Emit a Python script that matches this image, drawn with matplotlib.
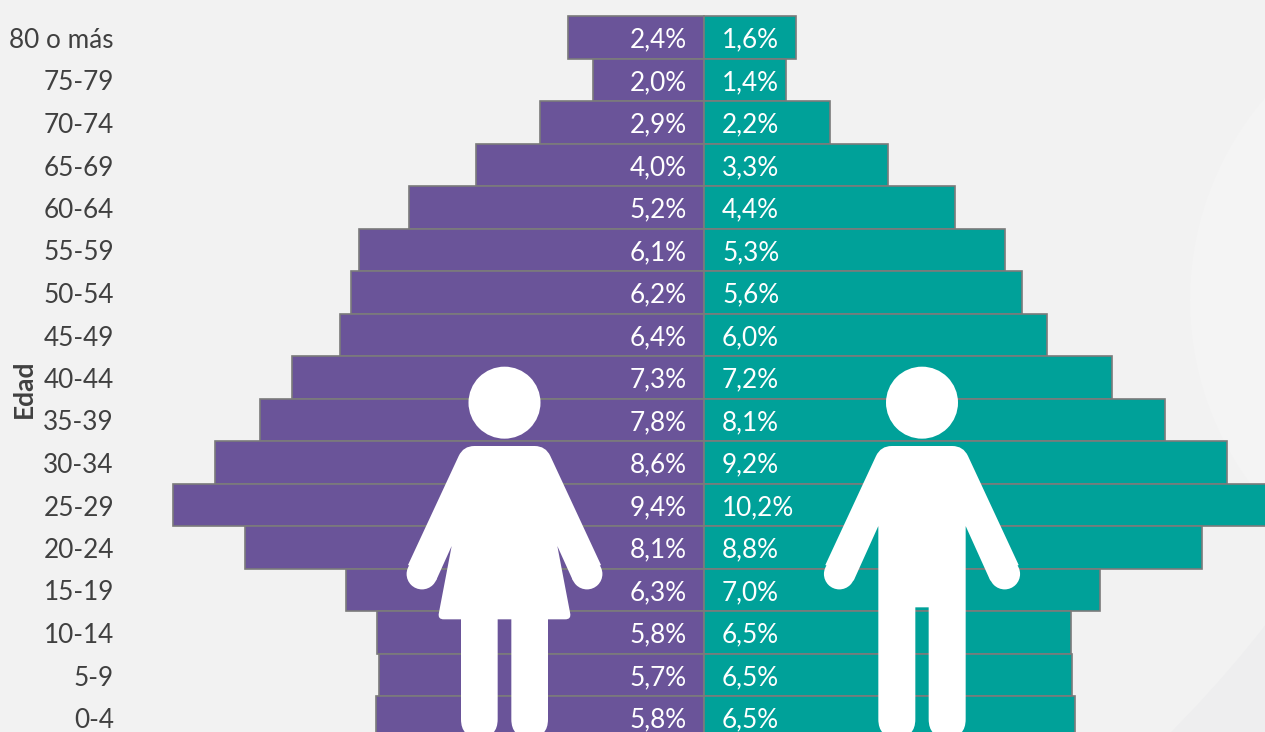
import matplotlib.pyplot as plt
from matplotlib.patches import Circle, PathPatch
from matplotlib.path import Path
from matplotlib.transforms import ScaledTranslation
import numpy as np

plt.rcParams["font.family"] = ["Lato", "DejaVu Sans"]

edades = ["80 o más", "75-79", "70-74", "65-69", "60-64", "55-59", "50-54", "45-49", "40-44",
          "35-39", "30-34", "25-29", "20-24", "15-19", "10-14", "5-9", "0-4"]
mujeres = [2.40, 1.97, 2.91, 4.03, 5.23, 6.10, 6.24, 6.45, 7.30, 7.85, 8.66, 9.39, 8.13, 6.34, 5.78, 5.76, 5.80]
hombres = [1.63, 1.45, 2.23, 3.26, 4.44, 5.33, 5.62, 6.07, 7.22, 8.16, 9.26, 10.2, 8.81, 7.01, 6.50, 6.51, 6.56]
etiq_mujeres = ["2,4%", "2,0%", "2,9%", "4,0%", "5,2%", "6,1%", "6,2%", "6,4%", "7,3%",
                "7,8%", "8,6%", "9,4%", "8,1%", "6,3%", "5,8%", "5,7%", "5,8%"]
etiq_hombres = ["1,6%", "1,4%", "2,2%", "3,3%", "4,4%", "5,3%", "5,6%", "6,0%", "7,2%",
                "8,1%", "9,2%", "10,2%", "8,8%", "7,0%", "6,5%", "6,5%", "6,5%"]

W, H = 1265, 732
MORADO = "#6a5499"
VERDE = "#00a199"
GRIS = "#7b7b7b"
TEXTO = "#404040"

fig = plt.figure(figsize=(W / 100, H / 100), dpi=100, facecolor="#eeeeef")

# capa de fondo: esquina mas oscura abajo a la derecha y zona clara a la derecha
bg = fig.add_axes([0, 0, 1, 1], zorder=0)
bg.set_xlim(0, W)
bg.set_ylim(H, 0)
bg.axis("off")
bg.add_patch(Circle((320, -114), 1200, fc="#f2f2f2", ec="none"))
bg.add_patch(Circle((1500, 300), 310, fc="#f4f4f4", ec="none"))

ax = fig.add_axes([120 / W, 0, (W - 120) / W, 1], zorder=1)
ax.patch.set_alpha(0)
escala = 56.5
ax.set_xlim(-(704 - 120) / escala, (W - 704) / escala)
ax.set_ylim((H - 37.5) / 42.5, -37.5 / 42.5)

y = np.arange(len(edades))
ax.barh(y, [-m for m in mujeres], height=1, color=MORADO, edgecolor=GRIS, linewidth=1.2)
ax.barh(y, hombres, height=1, color=VERDE, edgecolor=GRIS, linewidth=1.2)

for i in y:
    ax.annotate(etiq_mujeres[i], (0, i), xytext=(-12.5, -2), textcoords="offset points",
                ha="right", va="center", color="white", fontsize=18.8)
    ax.annotate(etiq_hombres[i], (0, i), xytext=(13, -2), textcoords="offset points",
                ha="left", va="center", color="white", fontsize=18.8)

ax.set_yticks(y, edades, fontsize=18.8, color=TEXTO)
ax.tick_params(axis="y", length=0, pad=4.4)
sube = ScaledTranslation(0, -0.5 / 100, fig.dpi_scale_trans)
for t in ax.get_yticklabels():
    t.set_transform(t.get_transform() + sube)
ax.set_xticks([])
for s in ax.spines.values():
    s.set_visible(False)
ax.set_ylabel("Edad", fontsize=19, fontweight="bold", color=TEXTO, va="center")
ax.yaxis.set_label_coords(-(120 - 24) / (W - 120), 1 - 388.5 / H)


def contorno(puntos):
    # poligono cerrado con esquinas redondeadas, puntos = (x, y, radio)
    verts, codes = [], []
    n = len(puntos)
    for i in range(n):
        p = np.array(puntos[i][:2], dtype=float)
        r = puntos[i][2]
        a = np.array(puntos[i - 1][:2], dtype=float)
        b = np.array(puntos[(i + 1) % n][:2], dtype=float)
        if r > 0:
            p1 = p + (a - p) / np.linalg.norm(a - p) * r
            p2 = p + (b - p) / np.linalg.norm(b - p) * r
            verts += [p1, p, p2]
            codes += [Path.LINETO, Path.CURVE3, Path.CURVE3]
        else:
            verts.append(p)
            codes.append(Path.LINETO)
    codes[0] = Path.MOVETO
    verts.append(verts[0])
    codes.append(Path.CLOSEPOLY)
    return Path(verts, codes)


def figura(mitad, x0, y0, eje, cabeza, mano):
    # mitad izquierda en pixeles del zoom (3x), se refleja sobre el eje
    der = [(2 * eje - x, yy, r) for x, yy, r in reversed(mitad)]
    pts = [(x0 + x / 3, y0 + yy / 3, r) for x, yy, r in mitad + der]
    ico = fig.add_axes([0, 0, 1, 1], zorder=2)
    ico.set_xlim(0, W)
    ico.set_ylim(H, 0)
    ico.axis("off")
    ico.add_patch(PathPatch(contorno(pts), fc="white", ec="none"))
    ico.add_patch(Circle((x0 + eje / 3, y0 + cabeza / 3), 36, fc="white", ec="none"))
    for xm in (mano, 2 * eje - mano):
        ico.add_patch(Circle((x0 + xm / 3, y0 + 672 / 3), 15.4, fc="white", ec="none"))


mujer = [(190, 288, 11), (24, 645, 0), (108, 692, 0), (155, 588, 0), (113, 808, 6),
         (183, 808, 0), (183, 1162, 18), (293, 1162, 18), (293, 808, 0)]
hombre = [(212, 288, 11), (46, 645, 0), (131, 692, 0), (205, 528, 0),
          (205, 1162, 18), (316, 1162, 18), (316, 772, 0)]
figura(mujer, 400, 350, 313.5, 158, 66)
figura(hombre, 810, 350, 336, 158, 88)

fig.savefig("out.png", dpi=100, facecolor=fig.get_facecolor())
